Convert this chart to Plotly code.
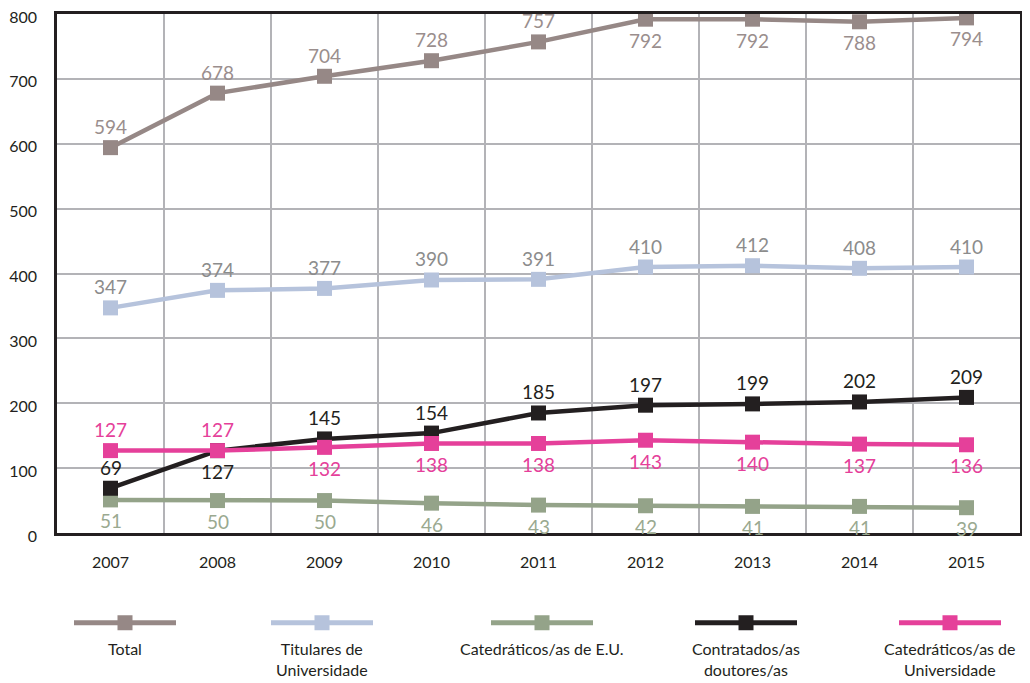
import plotly.graph_objects as go

years = ["2007", "2008", "2009", "2010", "2011", "2012", "2013", "2014", "2015"]
series_names = ["Total", "Titulares de<br>Universidade", "Catedráticos/as de E.U.",
                "Contratados/as<br>doutores/as", "Catedráticos/as de<br>Universidade"]
total = [594, 678, 704, 728, 757, 792, 792, 788, 794]
titulares = [347, 374, 377, 390, 391, 410, 412, 408, 410]
cat_eu = [51, 50, 50, 46, 43, 42, 41, 41, 39]
contratados = [69, 127, 145, 154, 185, 197, 199, 202, 209]
cat_univ = [127, 127, 132, 138, 138, 143, 140, 137, 136]
y_ticks = [0, 100, 200, 300, 400, 500, 600, 700, 800]

# styling (kept apart from the data)
line_colors = ["#968886", "#b6c3dc", "#94a389", "#231f20", "#e5409a"]
label_colors = ["#9a8e8d", "#8c8c8c", "#9aa990", "#231f20", "#e5409a"]
U, D = 1, -1
label_side = [
    [U, U, U, U, U, D, D, D, D],
    [U] * 9,
    [D] * 9,
    [U, D, U, U, U, U, U, U, U],
    [U, U, D, D, D, D, D, D, D],
]
legend_px = [125, 322, 542, 746, 950]

all_series = [total, titulares, cat_eu, contratados, cat_univ]
FONT = "Lato"

fig = go.Figure()
for vals, col in zip(all_series, line_colors):
    fig.add_trace(go.Scatter(
        x=years, y=vals, mode="lines+markers",
        line=dict(color=col, width=4.5),
        marker=dict(symbol="square", size=15, color=col),
        showlegend=False, hoverinfo="skip", xaxis="x", yaxis="y"))

annotations = []
for vals, sides, lc in zip(all_series, label_side, label_colors):
    for idx, (v, s) in enumerate(zip(vals, sides)):
        annotations.append(dict(
            x=idx, y=v, xref="x", yref="y", text=str(v), showarrow=False,
            yshift=21 * s, font=dict(family=FONT, size=19, color=lc)))

# legend drawn on a hidden helper axis below the chart
for i, (name, col) in enumerate(zip(series_names, line_colors)):
    cx = legend_px[i]
    fig.add_trace(go.Scatter(
        x=[cx - 51, cx + 51], y=[0.5, 0.5], mode="lines",
        line=dict(color=col, width=5), showlegend=False, hoverinfo="skip",
        xaxis="x2", yaxis="y2"))
    fig.add_trace(go.Scatter(
        x=[cx], y=[0.5], mode="markers",
        marker=dict(symbol="square", size=15, color=col),
        showlegend=False, hoverinfo="skip", xaxis="x2", yaxis="y2"))
    annotations.append(dict(
        x=cx, y=0.38, xref="x2", yref="y2", text=name, showarrow=False,
        yanchor="top", align="center",
        font=dict(family=FONT, size=16, color="#231f20")))

# the page body adds an 8px offset; the figure is sized to fill the rest
PAGE_OFF = 8
W = 1030 - PAGE_OFF
H = 683 - PAGE_OFF
T = 14 - PAGE_OFF
plot_bottom = 533 - PAGE_OFF
main_low = (H - plot_bottom) / (H - T)

fig.update_layout(
    width=W, height=H,
    margin=dict(l=57 - PAGE_OFF, r=10, t=T, b=0),
    paper_bgcolor="white", plot_bgcolor="white",
    font=dict(family=FONT, color="#231f20"),
    annotations=annotations,
    xaxis=dict(
        type="category", domain=[0, 1], anchor="y",
        range=[-0.5, 8.5], tickson="boundaries",
        showgrid=True, gridcolor="#b3b3b7", gridwidth=2,
        ticks="", ticklabelstandoff=13, automargin=False,
        tickfont=dict(family=FONT, size=16, color="#231f20"),
        showline=True, linecolor="#231f20", linewidth=2.5, mirror=True,
        zeroline=False, fixedrange=True),
    yaxis=dict(
        domain=[main_low, 1], anchor="x",
        range=[0, 800], tickvals=y_ticks,
        showgrid=True, gridcolor="#b3b3b7", gridwidth=2,
        ticks="", ticklabelstandoff=14, ticklabelshift=3, automargin=False,
        ticklabeloverflow="allow",
        tickfont=dict(family=FONT, size=16, color="#231f20"),
        showline=True, linecolor="#231f20", linewidth=2.5, mirror=True,
        zeroline=False, fixedrange=True),
    xaxis2=dict(domain=[0, 1], anchor="y2", range=[57, 1020], visible=False,
                fixedrange=True),
    yaxis2=dict(domain=[0, 0.18], anchor="x2", range=[0, 1], visible=False,
                fixedrange=True),
)

fig.write_html("out.html")
